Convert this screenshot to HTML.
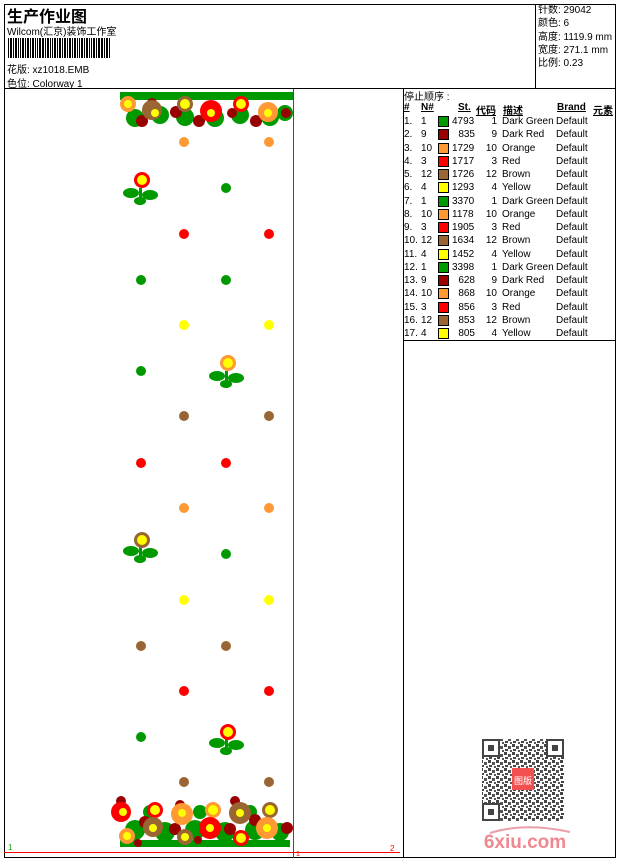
<!DOCTYPE html>
<html><head><meta charset="utf-8"><style>
body{margin:0;width:620px;height:860px;background:#fff;position:relative;overflow:hidden;font-family:"Liberation Sans","Noto Sans CJK SC",sans-serif;color:#000}
.a{position:absolute;white-space:nowrap}
.s{font-size:10px}
table td{padding:0;height:13.25px;line-height:13px;vertical-align:middle;white-space:nowrap}
table tr{height:13.25px}
table i{display:block;width:9px;height:9px;border:1px solid #000}
</style></head><body>
<svg class="a" style="left:0;top:0" width="620" height="860">
<g fill="none" stroke="#000" stroke-width="1">
<rect x="4.5" y="4.5" width="611" height="853"/>
<line x1="4" y1="88.5" x2="616" y2="88.5"/>
<line x1="535.5" y1="4" x2="535.5" y2="88"/>
<line x1="403.5" y1="88" x2="403.5" y2="858"/>
<line x1="403" y1="340.5" x2="616" y2="340.5"/>
</g>
<g fill="#000">
<rect x="8" y="38" width="1" height="20"/><rect x="10" y="38" width="2" height="20"/><rect x="13" y="38" width="1" height="20"/><rect x="15" y="38" width="2" height="20"/><rect x="18" y="38" width="1" height="20"/><rect x="20" y="38" width="1" height="20"/><rect x="22" y="38" width="2" height="20"/><rect x="25" y="38" width="1" height="20"/><rect x="27" y="38" width="2" height="20"/><rect x="30" y="38" width="1" height="20"/><rect x="32" y="38" width="2" height="20"/><rect x="35" y="38" width="1" height="20"/><rect x="37" y="38" width="1" height="20"/><rect x="39" y="38" width="2" height="20"/><rect x="42" y="38" width="2" height="20"/><rect x="45" y="38" width="1" height="20"/><rect x="47" y="38" width="2" height="20"/><rect x="50" y="38" width="1" height="20"/><rect x="52" y="38" width="1" height="20"/><rect x="54" y="38" width="2" height="20"/><rect x="57" y="38" width="1" height="20"/><rect x="59" y="38" width="2" height="20"/><rect x="62" y="38" width="1" height="20"/><rect x="64" y="38" width="2" height="20"/><rect x="67" y="38" width="1" height="20"/><rect x="69" y="38" width="2" height="20"/><rect x="72" y="38" width="1" height="20"/><rect x="74" y="38" width="2" height="20"/><rect x="77" y="38" width="1" height="20"/><rect x="79" y="38" width="1" height="20"/><rect x="81" y="38" width="2" height="20"/><rect x="84" y="38" width="1" height="20"/><rect x="86" y="38" width="2" height="20"/><rect x="89" y="38" width="1" height="20"/><rect x="91" y="38" width="1" height="20"/><rect x="93" y="38" width="2" height="20"/><rect x="96" y="38" width="1" height="20"/><rect x="98" y="38" width="2" height="20"/><rect x="101" y="38" width="2" height="20"/><rect x="104" y="38" width="1" height="20"/><rect x="106" y="38" width="2" height="20"/><rect x="109" y="38" width="1" height="20"/>
</g>
<line x1="293.5" y1="89" x2="293.5" y2="858" stroke="#f00"/>
<line x1="4" y1="852.5" x2="400" y2="852.5" stroke="#f00"/>
<text x="8" y="850" font-size="8" fill="#0a0" font-family="Liberation Sans">1</text>
<text x="390" y="851" font-size="8" fill="#f00" font-family="Liberation Sans">2</text>
<text x="296" y="856" font-size="7" fill="#f00" font-family="Liberation Sans">1</text>
<g>
<rect x="120" y="92" width="173" height="8" fill="#009900"/>
<g fill="#009900"><circle cx="135" cy="118" r="9"/><circle cx="160" cy="115" r="9"/><circle cx="185" cy="117" r="9"/><circle cx="215" cy="118" r="9"/><circle cx="240" cy="115" r="9"/><circle cx="270" cy="117" r="9"/><circle cx="285" cy="113" r="8"/></g>
<g fill="#990000"><circle cx="142" cy="121" r="6"/><circle cx="152" cy="103" r="5"/><circle cx="176" cy="112" r="6"/><circle cx="199" cy="121" r="6"/><circle cx="232" cy="113" r="5"/><circle cx="256" cy="121" r="6"/><circle cx="286" cy="113" r="5"/></g>
<circle cx="128" cy="104" r="8" fill="#ff9933"/><circle cx="128" cy="104" r="4" fill="#ff0"/>
<circle cx="152" cy="110" r="10" fill="#996633"/><circle cx="155" cy="113" r="4" fill="#ff0"/>
<circle cx="185" cy="104" r="8" fill="#996633"/><circle cx="185" cy="104" r="5" fill="#ff0"/>
<circle cx="211" cy="111" r="11" fill="#f00"/><circle cx="211" cy="113" r="4" fill="#ff0"/>
<circle cx="241" cy="104" r="8" fill="#f00"/><circle cx="241" cy="104" r="5" fill="#ff0"/>
<circle cx="268" cy="112" r="10" fill="#ff9933"/><circle cx="268" cy="113" r="4" fill="#ff0"/>
</g>
<g>
<rect x="120" y="840" width="170" height="7" fill="#009900"/>
<g fill="#009900"><circle cx="135" cy="830" r="10"/><circle cx="165" cy="832" r="10"/><circle cx="195" cy="830" r="10"/><circle cx="225" cy="832" r="10"/><circle cx="255" cy="830" r="10"/><circle cx="280" cy="832" r="9"/><circle cx="150" cy="812" r="7"/><circle cx="200" cy="812" r="7"/><circle cx="250" cy="812" r="7"/></g>
<g fill="#990000"><circle cx="121" cy="801" r="5"/><circle cx="145" cy="822" r="6"/><circle cx="180" cy="805" r="5"/><circle cx="175" cy="829" r="6"/><circle cx="235" cy="801" r="5"/><circle cx="230" cy="829" r="6"/><circle cx="255" cy="820" r="6"/><circle cx="287" cy="828" r="6"/><circle cx="138" cy="843" r="4"/><circle cx="198" cy="840" r="4"/></g>
<circle cx="121" cy="812" r="10" fill="#f00"/><circle cx="123" cy="812" r="4" fill="#ff0"/>
<circle cx="155" cy="810" r="8" fill="#f00"/><circle cx="155" cy="810" r="5" fill="#ff0"/>
<circle cx="182" cy="814" r="11" fill="#ff9933"/><circle cx="182" cy="813" r="4" fill="#ff0"/>
<circle cx="213" cy="810" r="8" fill="#ff9933"/><circle cx="213" cy="810" r="5" fill="#ff0"/>
<circle cx="240" cy="813" r="11" fill="#996633"/><circle cx="240" cy="813" r="4" fill="#ff0"/>
<circle cx="270" cy="810" r="8" fill="#996633"/><circle cx="270" cy="810" r="5" fill="#ff0"/>
<circle cx="153" cy="827" r="10" fill="#996633"/><circle cx="153" cy="828" r="4" fill="#ff0"/>
<circle cx="210" cy="828" r="11" fill="#f00"/><circle cx="210" cy="828" r="4" fill="#ff0"/>
<circle cx="267" cy="828" r="11" fill="#ff9933"/><circle cx="267" cy="828" r="4" fill="#ff0"/>
<circle cx="127" cy="836" r="8" fill="#ff9933"/><circle cx="127" cy="836" r="4" fill="#ff0"/>
<circle cx="185" cy="837" r="8" fill="#996633"/><circle cx="185" cy="837" r="4" fill="#ff0"/>
<circle cx="241" cy="838" r="8" fill="#f00"/><circle cx="241" cy="838" r="5" fill="#ff0"/>
</g>
<g fill="#009900"><ellipse cx="131" cy="193" rx="8" ry="5"/><ellipse cx="150" cy="195" rx="8" ry="5"/><rect x="139" y="188" width="3" height="17"/><ellipse cx="140" cy="201" rx="6" ry="4"/></g><circle cx="142" cy="180" r="8" fill="#f00"/><circle cx="142" cy="180" r="5" fill="#ff0"/>
<g fill="#009900"><ellipse cx="217" cy="376" rx="8" ry="5"/><ellipse cx="236" cy="378" rx="8" ry="5"/><rect x="225" y="371" width="3" height="17"/><ellipse cx="226" cy="384" rx="6" ry="4"/></g><circle cx="228" cy="363" r="8" fill="#ff9933"/><circle cx="228" cy="363" r="5" fill="#ff0"/>
<g fill="#009900"><ellipse cx="131" cy="551" rx="8" ry="5"/><ellipse cx="150" cy="553" rx="8" ry="5"/><rect x="139" y="546" width="3" height="17"/><ellipse cx="140" cy="559" rx="6" ry="4"/></g><circle cx="142" cy="540" r="8" fill="#996633"/><circle cx="142" cy="540" r="5" fill="#ff0"/>
<g fill="#009900"><ellipse cx="217" cy="743" rx="8" ry="5"/><ellipse cx="236" cy="745" rx="8" ry="5"/><rect x="225" y="738" width="3" height="17"/><ellipse cx="226" cy="751" rx="6" ry="4"/></g><circle cx="228" cy="732" r="8" fill="#f00"/><circle cx="228" cy="732" r="5" fill="#ff0"/>
<g>
<circle cx="184" cy="142" r="5" fill="#ff9933"/><circle cx="269" cy="142" r="5" fill="#ff9933"/>
<circle cx="226" cy="188" r="5" fill="#009900"/>
<circle cx="184" cy="234" r="5" fill="#f00"/><circle cx="269" cy="234" r="5" fill="#f00"/>
<circle cx="141" cy="280" r="5" fill="#009900"/><circle cx="226" cy="280" r="5" fill="#009900"/>
<circle cx="184" cy="325" r="5" fill="#ff0"/><circle cx="269" cy="325" r="5" fill="#ff0"/>
<circle cx="141" cy="371" r="5" fill="#009900"/>
<circle cx="184" cy="416" r="5" fill="#996633"/><circle cx="269" cy="416" r="5" fill="#996633"/>
<circle cx="141" cy="463" r="5" fill="#f00"/><circle cx="226" cy="463" r="5" fill="#f00"/>
<circle cx="184" cy="508" r="5" fill="#ff9933"/><circle cx="269" cy="508" r="5" fill="#ff9933"/>
<circle cx="226" cy="554" r="5" fill="#009900"/>
<circle cx="184" cy="600" r="5" fill="#ff0"/><circle cx="269" cy="600" r="5" fill="#ff0"/>
<circle cx="141" cy="646" r="5" fill="#996633"/><circle cx="226" cy="646" r="5" fill="#996633"/>
<circle cx="184" cy="691" r="5" fill="#f00"/><circle cx="269" cy="691" r="5" fill="#f00"/>
<circle cx="141" cy="737" r="5" fill="#009900"/>
<circle cx="184" cy="782" r="5" fill="#996633"/><circle cx="269" cy="782" r="5" fill="#996633"/>
</g>
<defs><pattern id="qp" width="8" height="8" patternUnits="userSpaceOnUse"><rect width="3" height="3" fill="#444"/><rect x="4" y="2" width="3" height="3" fill="#555"/><rect x="1" y="5" width="3" height="2" fill="#444"/><rect x="6" y="6" width="2" height="2" fill="#555"/></pattern></defs>
<rect x="482" y="739" width="82" height="82" fill="url(#qp)"/>
<g fill="#fff" stroke="#444" stroke-width="2"><rect x="483" y="740" width="16" height="16"/><rect x="547" y="740" width="16" height="16"/><rect x="483" y="804" width="16" height="16"/></g>
<g fill="#444"><rect x="488" y="745" width="6" height="6"/><rect x="552" y="745" width="6" height="6"/><rect x="488" y="809" width="6" height="6"/></g>
<rect x="512" y="768" width="22" height="22" fill="#f35050"/>
<text x="523" y="784" font-size="9" fill="#fff" text-anchor="middle" font-family="Noto Sans CJK SC,sans-serif">图版</text>
<path d="M490 833 Q525 822 570 832" stroke="#e9a0a8" stroke-width="2" fill="none"/>
<text x="525" y="848" font-size="19" font-weight="bold" fill="#f08890" text-anchor="middle" font-family="Liberation Sans">6xiu.com</text>
</svg>
<div class="a" style="left:7px;top:3px;font-size:16px;font-weight:bold">生产作业图</div>
<div class="a s" style="left:7px;top:23px">Wilcom(汇京)装饰工作室</div>
<div class="a s" style="left:7px;top:61px">花版: xz1018.EMB</div>
<div class="a s" style="left:7px;top:75px">色位: Colorway 1</div>
<div class="a s" style="left:538px;top:4px;line-height:13.3px">针数: 29042<br>颜色: 6<br>高度: 1119.9 mm<br>宽度: 271.1 mm<br>比例: 0.23</div>
<div class="a s" style="left:404px;top:88px">停止顺序 :</div>
<div class="a s" style="left:404px;top:102px;font-weight:bold;text-decoration:underline">#</div>
<div class="a s" style="left:421px;top:102px;font-weight:bold;text-decoration:underline">N#</div>
<div class="a s" style="left:458px;top:102px;font-weight:bold;text-decoration:underline">St.</div>
<div class="a s" style="left:476px;top:102px;font-weight:bold;text-decoration:underline">代码</div>
<div class="a s" style="left:503px;top:102px;font-weight:bold;text-decoration:underline">描述</div>
<div class="a s" style="left:557px;top:102px;font-weight:bold;text-decoration:underline">Brand</div>
<div class="a s" style="left:593px;top:102px;font-weight:bold;text-decoration:underline">元素</div>
<div class="a" style="left:404px;top:115px">
<table style="border-collapse:collapse;font-size:10px" cellpadding="0" cellspacing="0">
<colgroup><col style="width:17px"><col style="width:17px"><col style="width:14px"><col style="width:23px"><col style="width:27px"><col style="width:54px"><col></colgroup>
<tr><td>1.</td><td>1</td><td><i style="background:#009900"></i></td><td>4793</td><td align="right" style="padding-right:5px">1</td><td>Dark Green</td><td>Default</td></tr>
<tr><td>2.</td><td>9</td><td><i style="background:#990000"></i></td><td align="right">835</td><td align="right" style="padding-right:5px">9</td><td>Dark Red</td><td>Default</td></tr>
<tr><td>3.</td><td>10</td><td><i style="background:#ff9933"></i></td><td>1729</td><td align="right" style="padding-right:5px">10</td><td>Orange</td><td>Default</td></tr>
<tr><td>4.</td><td>3</td><td><i style="background:#ff0000"></i></td><td>1717</td><td align="right" style="padding-right:5px">3</td><td>Red</td><td>Default</td></tr>
<tr><td>5.</td><td>12</td><td><i style="background:#996633"></i></td><td>1726</td><td align="right" style="padding-right:5px">12</td><td>Brown</td><td>Default</td></tr>
<tr><td>6.</td><td>4</td><td><i style="background:#ffff00"></i></td><td>1293</td><td align="right" style="padding-right:5px">4</td><td>Yellow</td><td>Default</td></tr>
<tr><td>7.</td><td>1</td><td><i style="background:#009900"></i></td><td>3370</td><td align="right" style="padding-right:5px">1</td><td>Dark Green</td><td>Default</td></tr>
<tr><td>8.</td><td>10</td><td><i style="background:#ff9933"></i></td><td>1178</td><td align="right" style="padding-right:5px">10</td><td>Orange</td><td>Default</td></tr>
<tr><td>9.</td><td>3</td><td><i style="background:#ff0000"></i></td><td>1905</td><td align="right" style="padding-right:5px">3</td><td>Red</td><td>Default</td></tr>
<tr><td>10.</td><td>12</td><td><i style="background:#996633"></i></td><td>1634</td><td align="right" style="padding-right:5px">12</td><td>Brown</td><td>Default</td></tr>
<tr><td>11.</td><td>4</td><td><i style="background:#ffff00"></i></td><td>1452</td><td align="right" style="padding-right:5px">4</td><td>Yellow</td><td>Default</td></tr>
<tr><td>12.</td><td>1</td><td><i style="background:#009900"></i></td><td>3398</td><td align="right" style="padding-right:5px">1</td><td>Dark Green</td><td>Default</td></tr>
<tr><td>13.</td><td>9</td><td><i style="background:#990000"></i></td><td align="right">628</td><td align="right" style="padding-right:5px">9</td><td>Dark Red</td><td>Default</td></tr>
<tr><td>14.</td><td>10</td><td><i style="background:#ff9933"></i></td><td align="right">868</td><td align="right" style="padding-right:5px">10</td><td>Orange</td><td>Default</td></tr>
<tr><td>15.</td><td>3</td><td><i style="background:#ff0000"></i></td><td align="right">856</td><td align="right" style="padding-right:5px">3</td><td>Red</td><td>Default</td></tr>
<tr><td>16.</td><td>12</td><td><i style="background:#996633"></i></td><td align="right">853</td><td align="right" style="padding-right:5px">12</td><td>Brown</td><td>Default</td></tr>
<tr><td>17.</td><td>4</td><td><i style="background:#ffff00"></i></td><td align="right">805</td><td align="right" style="padding-right:5px">4</td><td>Yellow</td><td>Default</td></tr>
</table></div>
</body></html>
